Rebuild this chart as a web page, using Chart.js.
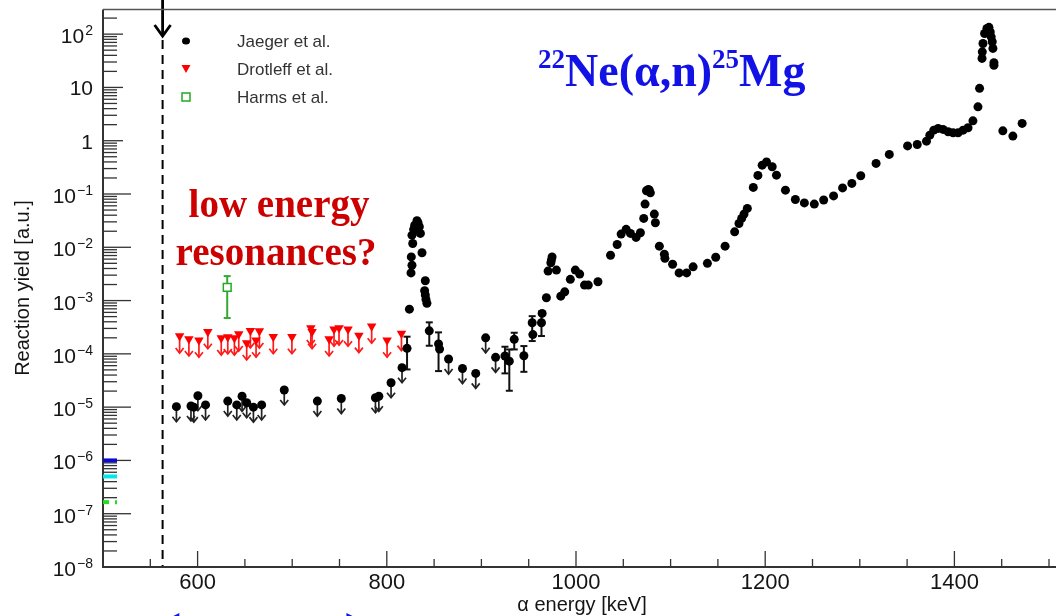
<!DOCTYPE html>
<html>
<head>
<meta charset="utf-8">
<title>22Ne(α,n)25Mg reaction yield</title>
<script src="https://cdn.jsdelivr.net/npm/chart.js@4.4.1/dist/chart.umd.min.js"></script>
<style>
    html, body { margin: 0; padding: 0; background: #fff; }
    #wrap { position: relative; width: 1056px; height: 616px; }
</style>
</head>
<body>
<div id="wrap"><canvas id="yieldChart"></canvas></div>
<script>
// Jaeger et al. - measured yields [keV, a.u.]
const jaegerE = [823.9, 825.6, 826.6, 825.9, 827.4, 826.6, 828.4, 829.5, 831.9, 833, 834.4, 835.5, 837.2,
    840.7, 840, 840.7, 841.4, 842.4, 855.8, 954.4, 964.2, 968.7, 970.5, 973.4, 974, 974.7, 979.3, 983.9,
    988.1, 994, 999.3, 1003.9, 1009, 1013, 1023.2, 1036.5, 1043.5, 1047.7, 1053, 1057.6, 1063.5, 1068.1,
    1071.6, 1073, 1074.5, 1076.5, 1077.5, 1078.6, 1082.8, 1083.9, 1088.1, 1093.4, 1094, 1102.1, 1109, 1117,
    1123.8, 1138.9, 1147.7, 1157.6, 1167.7, 1172.3, 1175.1, 1177.6, 1181.1, 1187.4, 1192.3, 1196.8, 1201.4,
    1207.4, 1211.9, 1221.4, 1231.9, 1241.4, 1251.9, 1261.8, 1272.3, 1281.8, 1291.6, 1301, 1317.2, 1331.2,
    1350.5, 1360.7, 1370.5, 1374, 1378.2, 1382.8, 1388, 1393.4, 1398.6, 1403.9, 1409.2, 1414.4, 1419.6,
    1424.9, 1426.6, 1429.2, 1429.5, 1430.2, 1431.9, 1434.4, 1436.5, 1437.9, 1438.9, 1440, 1440.7, 1441.8,
    1441.8, 1451.2, 1461.8, 1471.6];
const jaegerY = [6.9e-4, 3.3e-3, 4.6e-3, 6.6e-3, 1.18e-2, 1.69e-2, 2.17e-2, 2.6e-2, 3.14e-2, 2.88e-2, 2.43e-2, 1.82e-2, 7.9e-3,
    2.35e-3, 1.53e-3, 1.27e-3, 1.05e-3, 8.9e-4, 1.23e-4, 2.3e-4, 5.75e-4, 1.13e-3, 3.57e-3, 5.1e-3, 5.75e-3, 6.6e-3, 3.73e-3, 1.21e-3,
    1.46e-3, 2.5e-3, 3.73e-3, 3.14e-3, 1.95e-3, 1.95e-3, 2.26e-3, 7.1e-3, 1.13e-2, 1.77e-2, 2.17e-2, 1.82e-2, 1.53e-2, 1.87e-2,
    3.48e-2, 6.46e-2, 0.115, 0.122, 0.118, 0.105, 0.042, 0.0288, 0.0105, 7.4e-3, 6.2e-3, 4.8e-3, 3.3e-3, 3.3e-3,
    4.3e-3, 5e-3, 6.5e-3, 0.0105, 0.0195, 0.028, 0.0348, 0.042, 0.0537, 0.133, 0.223, 0.348, 0.40,
    0.324, 0.226, 0.118, 0.079, 0.068, 0.0646, 0.077, 0.092, 0.13, 0.158, 0.22, 0.375, 0.553,
    0.80, 0.85, 0.98, 1.27, 1.58, 1.7, 1.63, 1.47, 1.41, 1.41, 1.58, 1.75, 2.36,
    4.32, 9.6, 35, 46.6, 66.8, 103, 128, 134, 110, 89, 72, 54, 29,
    26, 1.53, 1.22, 2.11];

// Jaeger et al. - points with error bars
const jaegerBarE = [821.4, 844.9, 854.7, 924.9, 929.5, 934.7, 944.9, 953.7, 963.5];
const jaegerBarY = [1.27e-4, 2.7e-4, 1.53e-4, 9.1e-5, 7.3e-5, 1.87e-4, 9.2e-5, 3.84e-4, 3.84e-4];
const jaegerBarLo = [5.1e-5, 1.42e-4, 4.75e-5, 4.3e-5, 2.03e-5, 1.21e-4, 4.6e-5, 1.74e-4, 2.16e-4];
const jaegerBarHi = [2.1e-4, 3.9e-4, 2.53e-4, 1.36e-4, 1.21e-4, 2.49e-4, 1.4e-4, 5.1e-4, 6.2e-4];

// Jaeger et al. - upper limits
const jaegerLimE = [577.6, 593, 596, 600.3, 608.4, 631.9, 641.4, 647, 651.9, 659, 667.7, 691.6, 726.6, 751.9,
    788, 791.6, 804.5, 816.1, 865.3, 880, 894, 904.5, 915];
const jaegerLimY = [1.02e-5, 1.05e-5, 1.0e-5, 1.64e-5, 1.1e-5, 1.3e-5, 1.1e-5, 1.6e-5, 1.21e-5, 1.0e-5, 1.1e-5, 2.1e-5, 1.3e-5, 1.45e-5,
    1.5e-5, 1.6e-5, 2.87e-5, 5.5e-5, 8e-5, 5.3e-5, 4.3e-5, 2.0e-4, 8.6e-5];

// Drotleff et al. - upper limits
const drotleffE = [581, 590.8, 601.4, 610.8, 625, 631.9, 638.9, 643.5, 651.9, 655.8, 661.8, 665.3, 680, 699.7,
    719.7, 721, 739, 744.2, 749.5, 759, 770.5, 784, 800.3, 815.5];
const drotleffY = [2.16e-4, 1.9e-4, 1.8e-4, 2.6e-4, 1.98e-4, 2.08e-4, 1.98e-4, 2.35e-4, 1.6e-4, 2.7e-4, 1.8e-4, 2.68e-4, 2.1e-4, 2.1e-4,
    3.05e-4, 2.6e-4, 1.9e-4, 2.9e-4, 3.05e-4, 2.9e-4, 2.2e-4, 3.3e-4, 1.8e-4, 2.4e-4];

// Harms et al.
const harmsE = [631.3];
const harmsY = [1.77e-3];
const harmsLo = [4.7e-4];
const harmsHi = [2.88e-3];

// axes
const xMajorTicks = [600, 800, 1000, 1200, 1400];
const yDecades = [-8, -7, -6, -5, -4, -3, -2, -1, 0, 1, 2];

// threshold line and yield levels marked on the y axis
const thresholdE = 563;
const levelY = [1e-6, 5e-7, 1.65e-7];
const levelColors = ['#0a0ad0', '#00e8e8', '#20e020'];
const windowE = [568, 770];

const legendItems = ['Jaeger et al.', 'Drotleff et al.', 'Harms et al.'];

const SANS = '"Liberation Sans", Arial, sans-serif';
const SERIF = '"Liberation Serif", "Times New Roman", serif';

function toPoints(xs, ys) {
    return xs.map((x, i) => ({ x: x, y: ys[i] }));
}

function line(ctx, x1, y1, x2, y2) {
    ctx.beginPath();
    ctx.moveTo(x1, y1);
    ctx.lineTo(x2, y2);
    ctx.stroke();
}

function errorBars(ctx, xs, lo, hi, sx, sy, color) {
    ctx.strokeStyle = color;
    ctx.lineWidth = 2;
    xs.forEach((e, i) => {
        const px = sx.getPixelForValue(e);
        const top = sy.getPixelForValue(hi[i]);
        const bot = sy.getPixelForValue(lo[i]);
        line(ctx, px, top, px, bot);
        line(ctx, px - 3.5, top, px + 3.5, top);
        line(ctx, px - 3.5, bot, px + 3.5, bot);
    });
}

// down arrows hanging off upper-limit markers
function limitArrows(ctx, meta, color, len) {
    ctx.strokeStyle = color;
    ctx.lineWidth = 1.7;
    meta.data.forEach(pt => {
        const tip = pt.y + len;
        line(ctx, pt.x, pt.y + 2, pt.x, tip);
        ctx.beginPath();
        ctx.moveTo(pt.x - 4, tip - 5);
        ctx.lineTo(pt.x, tip);
        ctx.lineTo(pt.x + 4, tip - 5);
        ctx.stroke();
    });
}

const decorations = {
    id: 'decorations',
    beforeDatasetsDraw(chart) {
        const ctx = chart.ctx;
        const sx = chart.scales.x, sy = chart.scales.y;
        ctx.save();
        errorBars(ctx, jaegerBarE, jaegerBarLo, jaegerBarHi, sx, sy, '#111');
        errorBars(ctx, harmsE, harmsLo, harmsHi, sx, sy, '#33aa33');
        limitArrows(ctx, chart.getDatasetMeta(2), '#222', 15);
        limitArrows(ctx, chart.getDatasetMeta(3), '#ff1a1a', 17);
        ctx.restore();
    },
    afterDraw(chart) {
        const ctx = chart.ctx;
        const sx = chart.scales.x, sy = chart.scales.y;
        const area = chart.chartArea;
        const W = chart.width;
        ctx.save();

        // threshold: dashed line + arrow from above
        const tx = sx.getPixelForValue(thresholdE);
        ctx.strokeStyle = '#000';
        ctx.lineWidth = 2;
        ctx.setLineDash([9, 6]);
        line(ctx, tx, 40, tx, area.bottom);
        ctx.setLineDash([]);
        ctx.lineWidth = 2.8;
        line(ctx, tx, 0, tx, 35);
        ctx.beginPath();
        ctx.moveTo(tx - 8, 25);
        ctx.lineTo(tx, 36);
        ctx.lineTo(tx + 8, 25);
        ctx.stroke();

        // frame
        ctx.strokeStyle = '#333';
        ctx.lineWidth = 2;
        line(ctx, area.left, area.top, area.left, area.bottom + 1);
        line(ctx, area.left - 1, area.bottom, W, area.bottom);
        ctx.strokeStyle = '#555';
        ctx.lineWidth = 1.5;
        line(ctx, area.left, area.top, W, area.top);

        // y ticks (log)
        ctx.strokeStyle = '#333';
        ctx.lineWidth = 1.3;
        yDecades.forEach(n => {
            const py = sy.getPixelForValue(Math.pow(10, n));
            line(ctx, area.left, py, area.left + (n >= 0 ? 20 : 28), py);
            for (let m = 2; m <= 9; m++) {
                const v = m * Math.pow(10, n);
                if (v > sy.max) break;
                const my = sy.getPixelForValue(v);
                line(ctx, area.left, my, area.left + 14, my);
            }
        });

        // x ticks
        for (let e = 550; e <= sx.max; e += 50) {
            const px = sx.getPixelForValue(e);
            const major = xMajorTicks.includes(e);
            line(ctx, px, area.bottom, px, area.bottom - (major ? 16 : 8));
        }

        // coloured yield levels on the y axis
        levelY.forEach((v, i) => {
            const py = sy.getPixelForValue(v);
            ctx.strokeStyle = levelColors[i];
            ctx.lineWidth = 4;
            if (i === 2) ctx.setLineDash([6, 6]);
            line(ctx, area.left, py, area.left + 14, py);
            ctx.setLineDash([]);
        });

        // tick labels
        ctx.fillStyle = '#151515';
        ctx.font = '22px ' + SANS;
        ctx.textAlign = 'center';
        ctx.textBaseline = 'alphabetic';
        xMajorTicks.forEach(e => {
            ctx.fillText(String(e), sx.getPixelForValue(e), area.bottom + 22);
        });

        const labelRight = 93;
        yDecades.forEach(n => {
            const py = sy.getPixelForValue(Math.pow(10, n));
            ctx.textAlign = 'left';
            if (n === 0 || n === 1) {
                ctx.font = '21px ' + SANS;
                const t = n === 0 ? '1' : '10';
                ctx.fillText(t, labelRight - ctx.measureText(t).width, py + 8);
                return;
            }
            const exp = n < 0 ? '\u2212' + (-n) : String(n);
            ctx.font = '14px ' + SANS;
            const ew = ctx.measureText(exp).width;
            ctx.fillText(exp, labelRight - ew, py + 1);
            ctx.font = '21px ' + SANS;
            const bw = ctx.measureText('10').width;
            ctx.fillText('10', labelRight - ew - bw - 1, py + 9);
        });

        // axis titles
        ctx.font = '20px ' + SANS;
        ctx.textAlign = 'center';
        ctx.fillText('\u03b1 energy [keV]', 582, 611);
        ctx.save();
        ctx.translate(23, 288);
        ctx.rotate(-Math.PI / 2);
        ctx.textBaseline = 'middle';
        ctx.fillText('Reaction yield [a.u.]', 0, 0);
        ctx.restore();

        // legend
        const lx = 186, ly = [41, 69, 97];
        ctx.fillStyle = '#000';
        ctx.beginPath();
        ctx.ellipse(lx, ly[0], 4, 3.5, 0, 0, Math.PI * 2);
        ctx.fill();
        ctx.fillStyle = '#ff0000';
        ctx.beginPath();
        ctx.moveTo(lx - 4.5, ly[1] - 4);
        ctx.lineTo(lx + 4.5, ly[1] - 4);
        ctx.lineTo(lx, ly[1] + 4);
        ctx.closePath();
        ctx.fill();
        ctx.strokeStyle = '#22aa22';
        ctx.lineWidth = 1.5;
        ctx.strokeRect(lx - 4, ly[2] - 4, 8, 8);
        ctx.fillStyle = '#333';
        ctx.font = '17px ' + SANS;
        ctx.textAlign = 'left';
        ctx.textBaseline = 'middle';
        legendItems.forEach((t, i) => ctx.fillText(t, 237, ly[i] + 1));

        // reaction label
        ctx.fillStyle = '#1212e6';
        ctx.textBaseline = 'alphabetic';
        let cx = 538;
        const parts = [['22', true], ['Ne(\u03b1,n)', false], ['25', true], ['Mg', false]];
        parts.forEach(([t, sup]) => {
            ctx.font = 'bold ' + (sup ? 27 : 46) + 'px ' + SERIF;
            ctx.fillText(t, cx, sup ? 68 : 86);
            cx += ctx.measureText(t).width;
        });

        // annotation
        ctx.fillStyle = '#cc0000';
        ctx.font = 'bold 39px ' + SERIF;
        ctx.textAlign = 'center';
        ctx.fillText('low energy', 279, 217);
        ctx.fillText('resonances?', 276, 265);

        // energy window arrow below the axis
        const wl = sx.getPixelForValue(windowE[0]);
        const wr = sx.getPixelForValue(windowE[1]);
        const wy = area.bottom + 52;
        ctx.fillStyle = '#1010ee';
        ctx.beginPath();
        ctx.moveTo(wl, wy);
        ctx.lineTo(wl + 12, wy - 6);
        ctx.lineTo(wl + 12, wy + 6);
        ctx.closePath();
        ctx.fill();
        ctx.beginPath();
        ctx.moveTo(wr, wy);
        ctx.lineTo(wr - 12, wy - 6);
        ctx.lineTo(wr - 12, wy + 6);
        ctx.closePath();
        ctx.fill();

        ctx.restore();
    }
};

document.addEventListener('DOMContentLoaded', () => {

    const dot = { pointStyle: 'circle', pointRadius: 4.5, backgroundColor: '#000', borderColor: '#000', borderWidth: 0 };

    new Chart(document.getElementById('yieldChart'), {
        type: 'scatter',
        data: {
            datasets: [
                Object.assign({ label: 'Jaeger et al.', data: toPoints(jaegerE, jaegerY) }, dot),
                Object.assign({ label: 'Jaeger et al. (errors)', data: toPoints(jaegerBarE, jaegerBarY) }, dot),
                Object.assign({ label: 'Jaeger et al. (limits)', data: toPoints(jaegerLimE, jaegerLimY) }, dot),
                {
                    label: 'Drotleff et al.',
                    data: toPoints(drotleffE, drotleffY),
                    pointStyle: 'triangle',
                    rotation: 180,
                    pointRadius: 5.5,
                    backgroundColor: '#ff0000',
                    borderColor: '#ff0000',
                    borderWidth: 0
                },
                {
                    label: 'Harms et al.',
                    data: toPoints(harmsE, harmsY),
                    pointStyle: 'rect',
                    pointRadius: 5.5,
                    backgroundColor: '#fff',
                    borderColor: '#22aa22',
                    borderWidth: 1.5
                }
            ]
        },
        options: {
            responsive: true,
            maintainAspectRatio: false,
            animation: false,
            layout: { padding: { left: 103, top: 9.5, right: 3, bottom: 49 } },
            scales: {
                x: { type: 'linear', min: 500, max: 1500, display: false },
                y: { type: 'logarithmic', min: 1e-8, max: 290, display: false }
            },
            plugins: {
                legend: { display: false },
                tooltip: { enabled: false }
            }
        },
        plugins: [decorations]
    });
});
</script>
</body>
</html>
